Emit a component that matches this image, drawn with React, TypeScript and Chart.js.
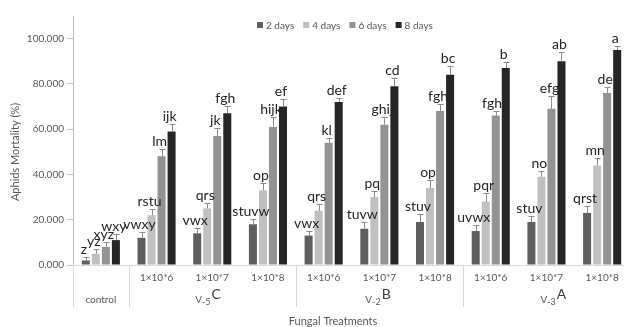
import React, { useEffect, useRef } from "react";
import { Chart, registerables } from "chart.js";

Chart.register(...registerables);

// ---- data ----
const categories = ["control", "1×10*6", "1×10*7", "1×10*8", "1×10*6", "1×10*7", "1×10*8", "1×10*6", "1×10*7", "1×10*8"];
const seriesNames = ["2 days", "4 days", "6 days", "8 days"];
const days2 = [2, 12, 14, 18, 13, 16, 19, 15, 19, 23];
const days4 = [5, 22, 25, 33, 24, 30, 34, 28, 39, 44];
const days6 = [8, 48, 57, 61, 54, 62, 68, 66, 69, 76];
const days8 = [11, 59, 67, 70, 72, 79, 84, 87, 90, 95];
const err2 = [1.6, 2.5, 2.2, 2.4, 2.2, 3.1, 3.4, 2.8, 2.7, 3.0];
const err4 = [1.9, 2.6, 2.2, 3.1, 2.8, 2.6, 3.4, 3.8, 2.6, 3.4];
const err6 = [2.2, 3.3, 3.7, 4.3, 1.9, 3.3, 3.1, 2.1, 5.5, 2.8];
const err8 = [2.5, 3.2, 3.2, 3.5, 1.8, 3.5, 3.9, 2.7, 3.9, 1.6];
const let2 = ["z", "vwxy", "vwx", "stuvw", "vwx", "tuvw", "stuv", "uvwx", "stuv", "qrst"];
const let4 = ["yz", "rstu", "qrs", "op", "qrs", "pq", "op", "pqr", "no", "mn"];
const let6 = ["xyz", "lm", "jk", "hijk", "kl", "ghij", "fgh", "fghi", "efg", "de"];
const let8 = ["wxy", "ijk", "fgh", "ef", "def", "cd", "bc", "b", "ab", "a"];
const groupNames = ["V-5", "V-2", "V-3"];
const groupLetters = ["C", "B", "A"];
const groupStarts = [1, 4, 7];
const groupEnds = [3, 6, 9];
const yTickMax = 100;

// ---- style ----
const FONT = "Lato, 'Open Sans', sans-serif";
const seriesColors = ["#5f5f5f", "#c0c0c0", "#939393", "#262626"];
const textGray = "#595959";
const lineGray = "#d9d9d9";
const groupLabelOffsets = [-17, -14, -6];

const values = [days2, days4, days6, days8];
const errors = [err2, err4, err6, err8];
const letters = [let2, let4, let6, let8];

const drawPlugin = {
  id: "customDraw",
  afterDraw(chart: any) {
    const ctx = chart.ctx as CanvasRenderingContext2D;
    const x = chart.scales.x;
    const y = chart.scales.y;
    const area = chart.chartArea;
    ctx.save();

    // error bars + letters
    values.forEach((vals, di) => {
      const meta = chart.getDatasetMeta(di);
      meta.data.forEach((bar: any, i: number) => {
        const top = y.getPixelForValue(vals[i]);
        const eTop = y.getPixelForValue(vals[i] + errors[di][i]);
        ctx.strokeStyle = "#8c8c8c";
        ctx.lineWidth = 1;
        ctx.beginPath();
        ctx.moveTo(Math.round(bar.x) + 0.5, top);
        ctx.lineTo(Math.round(bar.x) + 0.5, Math.round(eTop) + 0.5);
        ctx.moveTo(Math.round(bar.x) - 2.5, Math.round(eTop) + 0.5);
        ctx.lineTo(Math.round(bar.x) + 3.5, Math.round(eTop) + 0.5);
        ctx.stroke();
        ctx.fillStyle = "#262626";
        ctx.font = `14px ${FONT}`;
        ctx.textAlign = "center";
        ctx.textBaseline = "alphabetic";
        ctx.fillText(letters[di][i], bar.x - 2, eTop - 3);
      });
    });

    // category labels
    ctx.fillStyle = textGray;
    ctx.font = `10px ${FONT}`;
    ctx.textAlign = "center";
    ctx.textBaseline = "middle";
    categories.forEach((c, i) => {
      const px = x.getPixelForValue(i);
      if (i === 0) ctx.fillText(c, px, 300);
      else ctx.fillText(c, px, 278);
    });

    // separators
    ctx.strokeStyle = lineGray;
    ctx.lineWidth = 1;
    const seps = [area.left];
    groupStarts.forEach((s) => seps.push((x.getPixelForValue(s - 1) + x.getPixelForValue(s)) / 2));
    seps.push(area.right);
    seps.forEach((sx) => {
      ctx.beginPath();
      ctx.moveTo(Math.round(sx) + 0.5, area.bottom);
      ctx.lineTo(Math.round(sx) + 0.5, 307);
      ctx.stroke();
    });

    // group labels
    groupNames.forEach((g, gi) => {
      const mid = x.getPixelForValue((groupStarts[gi] + groupEnds[gi]) / 2);
      let gx = mid + groupLabelOffsets[gi];
      ctx.textAlign = "left";
      ctx.textBaseline = "alphabetic";
      ctx.fillStyle = textGray;
      ctx.font = `10px ${FONT}`;
      ctx.fillText("V", gx, 303);
      gx += ctx.measureText("V").width;
      ctx.font = `9px ${FONT}`;
      const rest = g.slice(1);
      ctx.fillText(rest, gx, 305);
      gx += ctx.measureText(rest).width + 1;
      ctx.font = `14px ${FONT}`;
      ctx.fillStyle = "#404040";
      ctx.fillText(groupLetters[gi], gx, 299);
    });

    // axis titles
    ctx.fillStyle = textGray;
    ctx.font = `11px ${FONT}`;
    ctx.textAlign = "center";
    ctx.textBaseline = "middle";
    ctx.fillText("Fungal Treatments", 333, 321);
    ctx.save();
    ctx.translate(15, 152);
    ctx.rotate(-Math.PI / 2);
    ctx.fillText("Aphids Mortality (%)", 0, 0);
    ctx.restore();

    // legend
    ctx.font = `10px ${FONT}`;
    ctx.textAlign = "left";
    ctx.textBaseline = "middle";
    let lx = 257;
    seriesNames.forEach((n, i) => {
      ctx.fillStyle = seriesColors[i];
      ctx.fillRect(lx, 22, 6, 6);
      lx += 9;
      ctx.fillStyle = textGray;
      ctx.fillText(n, lx, 25.5);
      lx += ctx.measureText(n).width + 9;
    });

    ctx.restore();
  },
};

export default function App() {
  const ref = useRef<HTMLCanvasElement>(null);
  useEffect(() => {
    const canvas = ref.current!;
    const chart = new Chart(canvas, {
      type: "bar",
      data: {
        labels: categories,
        datasets: seriesNames.map((n, i) => ({
          label: n,
          data: values[i],
          backgroundColor: seriesColors[i],
          borderWidth: 0,
          categoryPercentage: 0.72,
          barPercentage: 0.8,
        })),
      },
      options: {
        responsive: false,
        animation: false,
        layout: { padding: { top: 16, right: 10, left: 0, bottom: 0 } },
        plugins: { legend: { display: false }, tooltip: { enabled: false } },
        scales: {
          x: {
            grid: { display: false },
            border: { color: lineGray },
            ticks: { display: false },
            afterFit: (s: any) => {
              s.height = 62;
            },
          },
          y: {
            min: 0,
            max: 110,
            ticks: {
              stepSize: 20,
              callback: (v: any) => Number(v).toFixed(3),
              font: { family: FONT, size: 10 },
              color: textGray,
              padding: 3,
            },
            grid: { drawOnChartArea: false, tickLength: 6, color: "#bfbfbf" },
            border: { color: "#bfbfbf" },
            afterBuildTicks: (s: any) => {
              s.ticks = s.ticks.filter((t: any) => t.value <= yTickMax);
            },
            afterFit: (s: any) => {
              s.width = 73;
            },
          },
        },
      },
      plugins: [drawPlugin],
    });
    return () => chart.destroy();
  }, []);

  return (
    <div style={{ position: "fixed", left: 0, top: 0, width: 624, height: 327, overflow: "hidden", background: "#fff" }}>
      <canvas ref={ref} width={640} height={327} style={{ width: 640, height: 327, display: "block" }} />
    </div>
  );
}
